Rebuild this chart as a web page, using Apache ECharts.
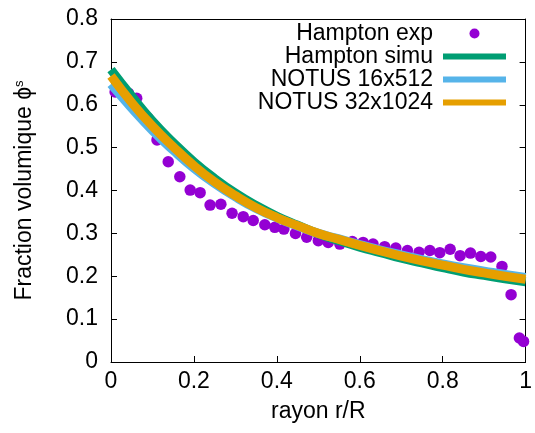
<!DOCTYPE html>
<html>
<head>
<meta charset="utf-8">
<script src="https://cdn.jsdelivr.net/npm/echarts@6/dist/echarts.min.js"></script>
<style>
html,body{margin:0;padding:0;background:#fff;}
#c{width:535px;height:433px;}
</style>
</head>
<body>
<div id="c"></div>
<script>
// Experimental points (Hampton exp)
const expX = [0.010,0.042,0.062,0.089,0.111,0.138,0.166,0.191,0.215,0.239,0.265,0.292,0.319,0.343,0.371,0.395,0.417,0.445,0.472,0.500,0.524,0.552,0.582,0.608,0.632,0.660,0.687,0.715,0.743,0.769,0.793,0.818,0.842,0.867,0.892,0.916,0.943,0.965,0.985,0.995];
const expY = [0.630,0.627,0.615,0.569,0.518,0.467,0.432,0.401,0.395,0.366,0.368,0.347,0.339,0.330,0.320,0.314,0.310,0.300,0.291,0.283,0.279,0.275,0.281,0.279,0.275,0.269,0.266,0.260,0.256,0.260,0.255,0.263,0.248,0.254,0.246,0.245,0.223,0.157,0.056,0.048];
// Simulation curves
const curveX = [0,0.05,0.1,0.15,0.2,0.25,0.3,0.35,0.4,0.45,0.5,0.55,0.6,0.65,0.7,0.75,0.8,0.85,0.9,0.95,1.0];
const hamptonSimu = [0.682,0.620,0.562,0.512,0.467,0.428,0.394,0.365,0.340,0.319,0.299,0.283,0.268,0.255,0.242,0.231,0.220,0.210,0.202,0.194,0.187];
const notus16 = [0.648,0.592,0.540,0.494,0.452,0.416,0.385,0.358,0.336,0.317,0.300,0.287,0.274,0.261,0.250,0.239,0.229,0.220,0.212,0.204,0.197];
const notus32 = [0.667,0.605,0.550,0.502,0.458,0.420,0.388,0.360,0.337,0.318,0.300,0.286,0.272,0.259,0.247,0.236,0.226,0.216,0.208,0.200,0.193];
const xTicks = {min:0, max:1, interval:0.2};
const yTicks = {min:0, max:0.8, interval:0.1};
const names = ['Hampton exp','Hampton simu','NOTUS 16x512','NOTUS 32x1024'];
const colors = ['#9400d3','#009e73','#56b4e9','#e69f00'];

const FONT = '"Liberation Sans", Arial, sans-serif';
const FS = 23;
const zip = (xs, ys) => xs.map((x,i)=>[x, ys[i]]);
const BAR_ICON = 'path://M0,0H63V6H0Z';

const chart = echarts.init(document.getElementById('c'), null, {renderer:'canvas'});
const tickStyle = {show:true, inside:true, length:6, lineStyle:{color:'#000', width:1}};
const lineSeries = (name, ys, color, w) => ({
  name, type:'line', data: zip(curveX, ys), smooth:true, symbol:'none', symbolKeepAspect:true,
  lineStyle:{color, width:w}, itemStyle:{color}, animation:false
});
chart.setOption({
  animation:false,
  textStyle:{fontFamily:FONT},
  grid:{left:111, right:6, top:19, bottom:71, containLabel:false},
  legend:{
    orient:'vertical', right:29, top:22, padding:0, itemGap:0,
    itemWidth:63, itemHeight:10, align:'right',
    textStyle:{fontFamily:FONT, fontSize:FS, color:'#000', lineHeight:22.7, padding:[0,5,0,0]},
    data:[{name:names[0], icon:'circle'},
          {name:names[1], icon:BAR_ICON},
          {name:names[2], icon:BAR_ICON},
          {name:names[3], icon:BAR_ICON}]
  },
  xAxis:[{
    type:'value', min:xTicks.min, max:xTicks.max, interval:xTicks.interval,
    name:'rayon r/R', nameLocation:'middle', nameGap:38,
    nameTextStyle:{fontFamily:FONT, fontSize:FS, color:'#000'},
    axisLine:{show:true, lineStyle:{color:'#000', width:1}},
    axisTick:tickStyle, splitLine:{show:false},
    axisLabel:{fontFamily:FONT, fontSize:FS, color:'#000', margin:8}
  },{
    type:'value', position:'top', min:xTicks.min, max:xTicks.max, interval:xTicks.interval,
    axisLine:{show:true, onZero:false, lineStyle:{color:'#000', width:1}},
    axisTick:{show:false}, axisLabel:{show:false}, splitLine:{show:false}
  }],
  yAxis:[{
    type:'value', min:yTicks.min, max:yTicks.max, interval:yTicks.interval,
    name:'Fraction volumique ϕ{s|s}', nameLocation:'middle', nameGap:75, nameRotate:90,
    nameTextStyle:{fontFamily:FONT, fontSize:FS, color:'#000',
      rich:{s:{fontFamily:FONT, fontSize:13, color:'#000', verticalAlign:'top'}}},
    axisLine:{show:true, lineStyle:{color:'#000', width:1}},
    axisTick:tickStyle, splitLine:{show:false},
    axisLabel:{fontFamily:FONT, fontSize:FS, color:'#000', margin:13}
  },{
    type:'value', position:'right', min:yTicks.min, max:yTicks.max, interval:yTicks.interval,
    axisLine:{show:true, onZero:false, lineStyle:{color:'#000', width:1}},
    axisTick:tickStyle, axisLabel:{show:false}, splitLine:{show:false}
  }],
  series:[
    {name:names[0], type:'scatter', data: zip(expX, expY), symbol:'circle', symbolSize:11.5,
     itemStyle:{color:colors[0], opacity:1}, animation:false},
    lineSeries(names[1], hamptonSimu, colors[1], 9),
    lineSeries(names[2], notus16, colors[2], 9),
    lineSeries(names[3], notus32, colors[3], 9)
  ]
});
</script>
</body>
</html>
